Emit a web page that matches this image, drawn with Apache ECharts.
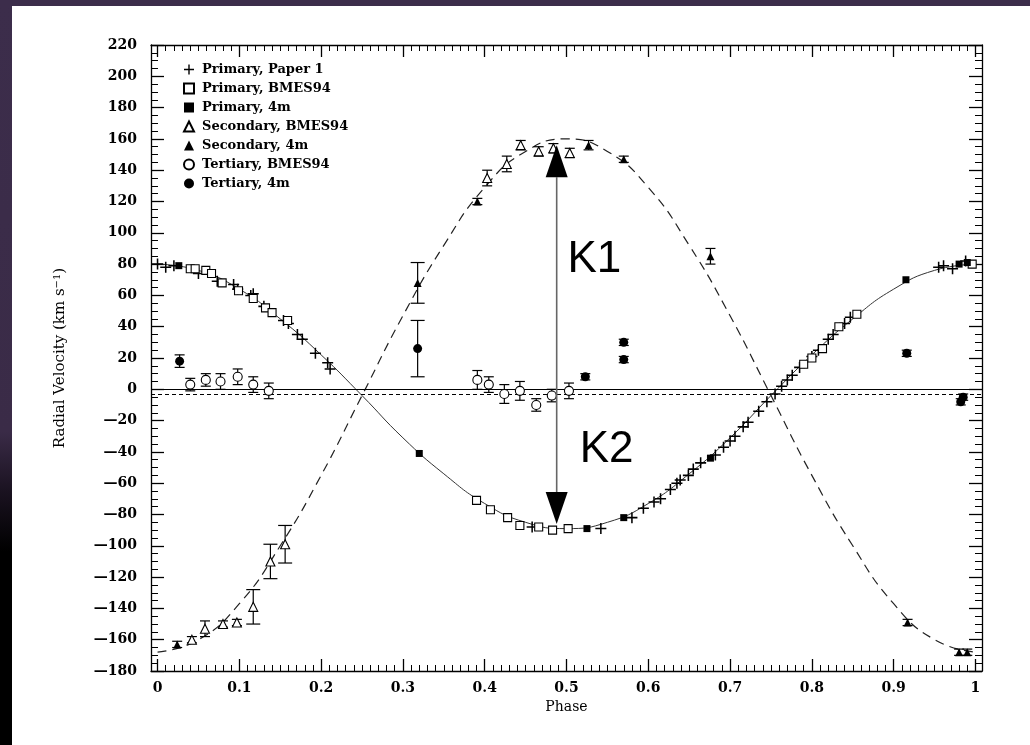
<!DOCTYPE html>
<html>
<head>
<meta charset="utf-8">
<script src="https://cdn.jsdelivr.net/npm/echarts@6/dist/echarts.min.js"></script>
<style>
  html, body { margin: 0; padding: 0; }
  body {
    width: 1030px; height: 745px; overflow: hidden; position: relative;
    background: linear-gradient(to bottom, #3c2d4b 0%, #3a2b47 58%, #1a1220 66%, #000 74%, #000 100%);
  }
  #chart { position: absolute; left: 12px; top: 6px; width: 1018px; height: 739px; background: #fff; }
</style>
</head>
<body>
<div id="chart"></div>
<script>
// ---------------- data (phase, radial velocity [, error]) ----------------
const X_MIN = -0.008, X_MAX = 1.008;
const X_MAJOR_TICKS = [0, 0.1, 0.2, 0.3, 0.4, 0.5, 0.6, 0.7, 0.8, 0.9, 1];
const Y_MIN = -180, Y_MAX = 220, Y_STEP = 20;

const primaryPaper1 = [
  [0.000,80],[0.010,78],[0.020,79],[0.050,74],[0.073,69],[0.093,67],[0.098,64],[0.114,60],[0.117,61],
  [0.130,53],[0.136,50],[0.154,44],[0.160,42],[0.171,35],[0.177,32],[0.193,23],[0.208,17],[0.211,13],
  [0.458,-88],[0.542,-89],[0.580,-82],[0.594,-76],[0.607,-72],[0.615,-70],[0.627,-64],[0.635,-60],
  [0.639,-58],[0.649,-55],[0.655,-51],[0.664,-47],[0.682,-42],[0.692,-37],[0.700,-33],[0.706,-30],
  [0.716,-24],[0.722,-21],[0.735,-14],[0.745,-8],[0.755,-3],[0.763,2],[0.770,6],[0.776,9],[0.785,14],
  [0.800,21],[0.808,25],[0.820,32],[0.826,35],[0.840,42],[0.847,46],[0.955,78],[0.961,79],[0.972,77],[0.988,82]
];
const primaryBMES94 = [
  [0.040,77],[0.046,77],[0.059,76],[0.066,74],[0.079,68],[0.099,63],[0.117,58],[0.132,52],[0.140,49],
  [0.159,44],[0.390,-71],[0.407,-77],[0.428,-82],[0.443,-87],[0.466,-88],[0.483,-90],[0.502,-89],
  [0.790,16],[0.800,20],[0.813,26],[0.833,40],[0.855,48],[0.996,80]
];
const primary4m = [
  [0.026,79],[0.320,-41],[0.525,-89],[0.570,-82],[0.676,-44],[0.915,70],[0.980,80],[0.990,81]
];
const secondaryBMES94 = [
  [0.042,-160,2],[0.058,-153,5],[0.080,-150,2],[0.097,-149,2],[0.117,-139,11],[0.138,-110,11],
  [0.156,-99,12],[0.403,135,5],[0.427,144,5],[0.444,156,3],[0.466,152,3],[0.484,154,3],[0.504,151,3]
];
const secondary4m = [
  [0.024,-163,2],[0.318,68,13],[0.391,120,2],[0.527,156,3],[0.570,147,2],[0.676,85,5],
  [0.917,-149,2],[0.980,-168,2],[0.990,-168,2]
];
const tertiaryBMES94 = [
  [0.040,3,4],[0.059,6,4],[0.077,5,5],[0.098,8,5],[0.117,3,5],[0.136,-1,5],[0.391,6,6],
  [0.405,3,5],[0.424,-3,6],[0.443,-1,6],[0.463,-10,4],[0.482,-4,4],[0.503,-1,5]
];
const tertiary4m = [
  [0.027,18,4],[0.318,26,18],[0.523,8,2],[0.570,30,2],[0.570,19,2],[0.916,23,2],[0.982,-8,2],[0.985,-5,2]
];

// model curves
const curvePhase = [0,0.05,0.1,0.15,0.2,0.25,0.3,0.35,0.4,0.45,0.5,0.55,0.6,0.65,0.7,0.75,0.8,0.85,0.9,0.95,1];
const primaryCurve = [80,76,64,45,22,-4,-31,-54,-73,-85,-89,-85,-73,-54,-31,-4,22,45,64,76,80];
const secondaryCurve = [-168,-160,-137,-100,-55,-4,47,92,129,152,160,152,129,92,47,-4,-55,-100,-137,-160,-168];

const zeroLine = 0;
const gammaLine = -3;

// K1 / K2 arrow: phase, top value, bottom value
const arrowData = [[0.488, 156, -86]];
const annotX = [0.534, 0.549];
const annotY = [83, -39];
const annotText = ['K1', 'K2'];

const legendNames = ['Primary, Paper 1','Primary, BMES94','Primary, 4m','Secondary, BMES94','Secondary, 4m','Tertiary, BMES94','Tertiary, 4m'];

// ---------------- chart ----------------
const FONT = 'DejaVu Serif';
const CROSS = 'path://M4.3,0H5.7V4.3H10V5.7H5.7V10H4.3V5.7H0V4.3H4.3Z';
const xMinor = [];
for (let i = 1; i <= 100; i++) { if (i % 10 !== 0) xMinor.push(i / 100); }

function fmtY(v) { return v < 0 ? '\u2014' + Math.abs(v) : String(v); }
function fmtX(v) { return (v === 0 || v === 1) ? String(v) : v.toFixed(1); }

function errRender(params, api) {
  const x = api.value(0), y = api.value(1), e = api.value(2);
  const t = api.coord([x, y + e]), b = api.coord([x, y - e]);
  const hw = e >= 8 ? 7 : 5;
  const st = { stroke: '#000', lineWidth: 1.2 };
  return { type: 'group', children: [
    { type: 'line', shape: { x1: t[0], y1: t[1], x2: b[0], y2: b[1] }, style: st },
    { type: 'line', shape: { x1: t[0]-hw, y1: t[1], x2: t[0]+hw, y2: t[1] }, style: st },
    { type: 'line', shape: { x1: b[0]-hw, y1: b[1], x2: b[0]+hw, y2: b[1] }, style: st }
  ]};
}
function errSeries(data) {
  return { type: 'custom', renderItem: errRender, data: data, z: 3, silent: true,
           xAxisIndex: 0, yAxisIndex: 0, encode: { x: 0, y: 1 } };
}
function scatter(name, data, symbol, size, fill, border) {
  return { name: name, type: 'scatter', data: data.map(d => [d[0], d[1]]), symbol: symbol, symbolSize: size,
           itemStyle: { color: fill, borderColor: border || fill, borderWidth: border ? 1.1 : 0, opacity: 1 },
           z: 5, xAxisIndex: 0, yAxisIndex: 0 };
}

const chart = echarts.init(document.getElementById('chart'), null, { renderer: 'canvas' });
const axisFont = { fontFamily: FONT, fontWeight: 'bold', fontSize: 14, color: '#000' };

const option = {
  animation: false,
  backgroundColor: '#fff',
  grid: { left: 139, top: 39, width: 831, height: 626 },
  legend: {
    data: legendNames, orient: 'vertical', left: 166, top: 52,
    itemWidth: 10, itemHeight: 10, itemGap: 6, selectedMode: false,
    textStyle: { fontFamily: FONT, fontWeight: 'bold', fontSize: 13, color: '#000', lineHeight: 12, padding: [0,0,0,3] }
  },
  xAxis: [
    { type: 'value', position: 'bottom', min: X_MIN, max: X_MAX,
      name: 'Phase', nameLocation: 'middle', nameGap: 28,
      nameTextStyle: { fontFamily: FONT, fontSize: 14, color: '#000' },
      axisLine: { show: true, onZero: false, lineStyle: { color: '#000', width: 1.3 } },
      axisTick: { show: true, inside: true, length: 12, customValues: X_MAJOR_TICKS, lineStyle: { color: '#000', width: 1.3 } },
      axisLabel: { show: true, customValues: X_MAJOR_TICKS, formatter: fmtX, margin: 10, ...axisFont },
      splitLine: { show: false } },
    { type: 'value', position: 'bottom', min: X_MIN, max: X_MAX,
      axisLine: { show: false, onZero: false },
      axisTick: { show: true, inside: true, length: 6, customValues: xMinor, lineStyle: { color: '#000', width: 1 } },
      axisLabel: { show: false }, splitLine: { show: false } },
    { type: 'value', position: 'top', min: X_MIN, max: X_MAX,
      axisLine: { show: true, onZero: false, lineStyle: { color: '#000', width: 1.3 } },
      axisTick: { show: true, inside: true, length: 12, customValues: X_MAJOR_TICKS, lineStyle: { color: '#000', width: 1.3 } },
      axisLabel: { show: false }, splitLine: { show: false } },
    { type: 'value', position: 'top', min: X_MIN, max: X_MAX,
      axisLine: { show: false, onZero: false },
      axisTick: { show: true, inside: true, length: 6, customValues: xMinor, lineStyle: { color: '#000', width: 1 } },
      axisLabel: { show: false }, splitLine: { show: false } }
  ],
  yAxis: [
    { type: 'value', position: 'left', min: Y_MIN, max: Y_MAX, interval: Y_STEP,
      name: 'Radial Velocity (km s{sup|\u22121})', nameLocation: 'middle', nameGap: 82, nameRotate: 90,
      nameTextStyle: { fontFamily: FONT, fontSize: 15, color: '#000',
        rich: { sup: { fontFamily: FONT, fontSize: 10, verticalAlign: 'top', padding: [0,0,7,0], color: '#000' } } },
      axisLine: { show: true, onZero: false, lineStyle: { color: '#000', width: 1.3 } },
      axisTick: { show: true, inside: true, length: 13, lineStyle: { color: '#000', width: 1.3 } },
      minorTick: { show: true, splitNumber: 4, length: 7, lineStyle: { color: '#000', width: 1 } },
      axisLabel: { formatter: fmtY, margin: 14, ...axisFont },
      splitLine: { show: false }, minorSplitLine: { show: false } },
    { type: 'value', position: 'right', min: Y_MIN, max: Y_MAX, interval: Y_STEP,
      axisLine: { show: true, onZero: false, lineStyle: { color: '#000', width: 1.3 } },
      axisTick: { show: true, inside: true, length: 13, lineStyle: { color: '#000', width: 1.3 } },
      minorTick: { show: true, splitNumber: 4, length: 7, lineStyle: { color: '#000', width: 1 } },
      axisLabel: { show: false }, splitLine: { show: false }, minorSplitLine: { show: false } }
  ],
  series: [
    { type: 'line', xAxisIndex: 0, yAxisIndex: 0, data: curvePhase.map((p, i) => [p, primaryCurve[i]]),
      smooth: 0.5, symbol: 'none', silent: true, z: 2,
      lineStyle: { color: '#333', width: 1 },
      markLine: { silent: true, symbol: 'none', label: { show: false }, animation: false,
        data: [
          { yAxis: zeroLine, lineStyle: { color: '#000', width: 1.2, type: 'solid' } },
          { yAxis: gammaLine, lineStyle: { color: '#000', width: 1.2, type: [4, 3] } }
        ] } },
    { type: 'line', xAxisIndex: 0, yAxisIndex: 0, data: curvePhase.map((p, i) => [p, secondaryCurve[i]]),
      smooth: 0.5, symbol: 'none', silent: true, z: 2,
      lineStyle: { color: '#222', width: 1.2, type: [9, 6] } },
    errSeries(secondaryBMES94), errSeries(secondary4m), errSeries(tertiaryBMES94), errSeries(tertiary4m),
    scatter('Primary, Paper 1', primaryPaper1, CROSS, 11, '#000'),
    scatter('Primary, BMES94', primaryBMES94, 'rect', 8, '#fff', '#000'),
    scatter('Primary, 4m', primary4m, 'rect', 7, '#000'),
    scatter('Secondary, BMES94', secondaryBMES94, 'triangle', 9, '#fff', '#000'),
    scatter('Secondary, 4m', secondary4m, 'triangle', 8, '#000'),
    scatter('Tertiary, BMES94', tertiaryBMES94, 'circle', 9, '#fff', '#000'),
    scatter('Tertiary, 4m', tertiary4m, 'circle', 9, '#000'),
    { type: 'custom', xAxisIndex: 0, yAxisIndex: 0, data: arrowData, z: 10, silent: true,
      encode: { x: 0, y: [1, 2] },
      renderItem: function (params, api) {
        const x = api.value(0);
        const t = api.coord([x, api.value(1)]), b = api.coord([x, api.value(2)]);
        const hw = 11, h = 32;
        return { type: 'group', children: [
          { type: 'line', shape: { x1: t[0], y1: t[1] + h, x2: b[0], y2: b[1] - h }, style: { stroke: '#666', lineWidth: 1.6 } },
          { type: 'polygon', shape: { points: [[t[0], t[1]], [t[0]-hw, t[1]+h], [t[0]+hw, t[1]+h]] }, style: { fill: '#000' } },
          { type: 'polygon', shape: { points: [[b[0], b[1]], [b[0]-hw, b[1]-h], [b[0]+hw, b[1]-h]] }, style: { fill: '#000' } }
        ]};
      } },
    { type: 'custom', xAxisIndex: 0, yAxisIndex: 0, data: annotX.map((x, i) => [x, annotY[i], i]), z: 10, silent: true,
      encode: { x: 0, y: 1 },
      renderItem: function (params, api) {
        const p = api.coord([api.value(0), api.value(1)]);
        return { type: 'text', x: p[0], y: p[1],
          style: { text: annotText[api.value(2)], fill: '#000', font: '44px "Liberation Sans", Arial, sans-serif',
                   textAlign: 'center', textVerticalAlign: 'middle' } };
      } }
  ]
};
chart.setOption(option);
</script>
</body>
</html>
